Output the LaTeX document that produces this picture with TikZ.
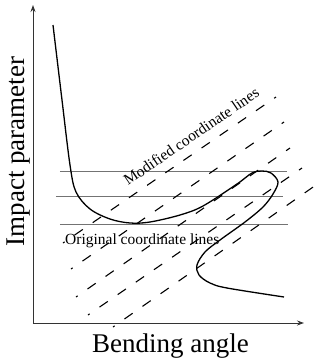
\documentclass[tikz,border=0pt]{standalone}
\usepackage{fontspec}
\setmainfont{Liberation Serif}
\usetikzlibrary{arrows.meta}
\begin{document}
\begin{tikzpicture}[x=1pt,y=-1pt,
  axis/.style={line width=0.9pt, draw=black!80, -{Stealth[length=7pt,width=5pt]}},
  gridline/.style={line width=0.7pt, draw=black!55},
  modline/.style={line width=1.1pt, dash pattern=on 10pt off 12pt, dash phase=8pt},
  curvestyle/.style={line width=1.3pt},
  biglabel/.style={font=\fontsize{27}{30}\selectfont, inner sep=0pt},
  smalllabel/.style={font=\fontsize{15.5}{18}\selectfont, inner sep=0pt}]
\useasboundingbox (0,0) rectangle (320,360);
% axes
\coordinate (O) at (33,323);
\coordinate (Ytop) at (33,5);
\coordinate (Xend) at (304,323);
\draw[axis] (O) -- (Ytop);
\draw[axis] (O) -- (Xend);
% original coordinate lines
\coordinate (h1a) at (60,171);  \coordinate (h1b) at (287,171);
\coordinate (h2a) at (56,196);  \coordinate (h2b) at (283,196);
\coordinate (h3a) at (60,224);  \coordinate (h3b) at (288,224);
\draw[gridline] (h1a) -- (h1b);
\draw[gridline] (h2a) -- (h2b);
\draw[gridline] (h3a) -- (h3b);
% labels
\node[biglabel, rotate=90, anchor=base] (ylab) at (24,151.5) {Impact parameter};
\node[biglabel, anchor=base] (xlab) at (170.5,352) {Bending angle};
\node[smalllabel, anchor=base west] (orig) at (65,244) {Original coordinate lines};
\node[smalllabel, anchor=base west, rotate=34.4] (modl) at (128,186) {Modified coordinate lines};
% modified coordinate lines
\coordinate (m1a) at (63,243);  \coordinate (m1b) at (276,97);
\coordinate (m2a) at (71,269);  \coordinate (m2b) at (284,122);
\coordinate (m3a) at (76,297);  \coordinate (m3b) at (290,148);
\coordinate (m4a) at (88,315);  \coordinate (m4b) at (302,168);
\coordinate (m5a) at (113,327); \coordinate (m5b) at (316,185);
\draw[modline] (m1a) -- (m1b);
\draw[modline] (m2a) -- (m2b);
\draw[modline] (m3a) -- (m3b);
\draw[modline] (m4a) -- (m4b);
\draw[modline] (m5a) -- (m5b);
% curve
\draw[curvestyle] plot[smooth, tension=0.55] coordinates {
  (53,25) (62,100) (70,165) (76,192) (90,209) (110,219) (130,223) (150,222)
  (180,215) (203,206) (237,184) (252,173) (262,171) (271,173) (278,182)
  (273,194) (263,207) (245,222) (220,240) (205,252) (197,265) (199,275)
  (210,283) (227,288) (284,297)};
\end{tikzpicture}
\end{document}
